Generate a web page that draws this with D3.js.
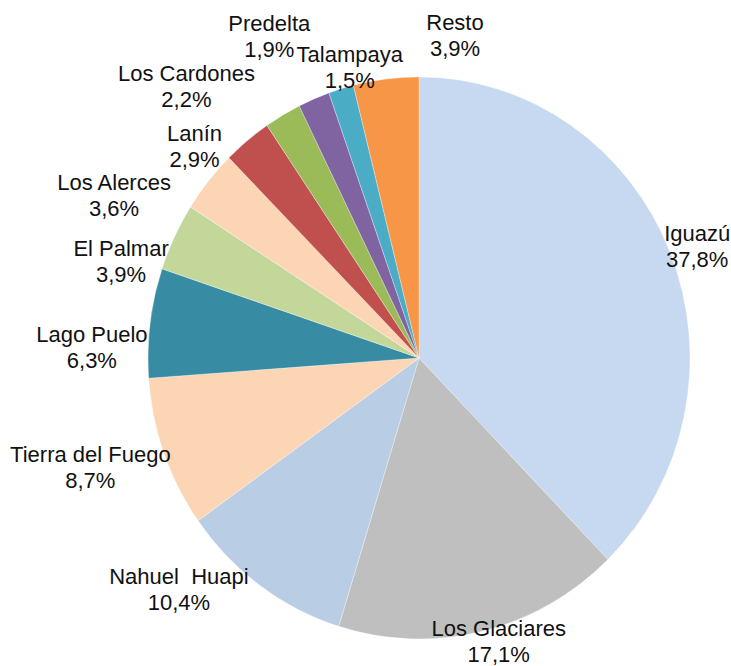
<!DOCTYPE html>
<html>
  <head>
    <script src="https://d3js.org/d3.v7.min.js"></script>
    <style>
      body { margin: 0; background-color: white; }
      text { font-family: 'Liberation Sans', Arial, sans-serif; font-size: 22px; fill: #111; white-space: pre; }
    </style>
  </head>
  <body>
    <svg id="canvas" width="731" height="666"></svg>
    <script>
      const parks = ['Iguazú', 'Los Glaciares', 'Nahuel  Huapi', 'Tierra del Fuego', 'Lago Puelo', 'El Palmar',
                     'Los Alerces', 'Lanín', 'Los Cardones', 'Predelta', 'Talampaya', 'Resto']
      const shares = [37.8, 17.1, 10.4, 8.7, 6.3, 3.9, 3.6, 2.9, 2.2, 1.9, 1.5, 3.9]
      const colors = ['#c6d9f1', '#bfbfbf', '#b9cde5', '#fcd5b5', '#378ba2', '#c4d79b',
                      '#fcd5b5', '#c0504d', '#9bbb59', '#8064a2', '#4bacc6', '#f79646']

      // pie is a bit taller than wide in the original
      const cx = 419
      const cy = 358
      const rx = 271
      const ry = 281

      // hand tweaks for labels, same as they were dragged in the original
      const labelNudge = {
        'Iguazú': [-3, 7],
        'Los Glaciares': [9, -23],
        'Nahuel  Huapi': [-62, -23],
        'Tierra del Fuego': [-43, 3],
        'Lago Puelo': [-26, 29],
        'El Palmar': [-24, 39],
        'Los Alerces': [-69, 35],
        'Lanín': [-32, 32],
        'Los Cardones': [-80, 1],
        'Predelta': [-32, -31],
        'Talampaya': [18, 11],
        'Resto': [73, -10]
      }

      const data = parks.map((p, i) => ({ name: p, value: shares[i], color: colors[i] }))

      const pie = d3.pie().sort(null).value(d => d.value)
      const arcs = pie(data)
      const arc = d3.arc().innerRadius(0).outerRadius(rx)

      let svg = d3.select('#canvas')
      let g = svg.append('g')
        .attr('transform', `translate(${cx}, ${cy}) scale(1, ${ry / rx})`)

      g.selectAll('path').data(arcs)
        .enter()
        .append('path')
          .attr('d', arc)
          .attr('fill', d => d.data.color)
          .attr('stroke', 'white')
          .attr('stroke-width', 0.3)

      const fmt = v => d3.format('.1f')(v).replace('.', ',') + '%'

      let labels = svg.append('g')
      const k = 1.12
      labels.selectAll('text').data(arcs)
        .enter()
        .append('text')
          .attr('text-anchor', 'middle')
          .attr('transform', d => {
            let a = (d.startAngle + d.endAngle) / 2
            let n = labelNudge[d.data.name] || [0, 0]
            let x = cx + rx * k * Math.sin(a) + n[0]
            let y = cy - ry * k * Math.cos(a) + n[1]
            return `translate(${x}, ${y})`
          })
          .each(function (d) {
            let t = d3.select(this)
            t.append('tspan').attr('x', 0).attr('y', -5.5).text(d.data.name)
            t.append('tspan').attr('x', 0).attr('y', 20.5).text(fmt(d.data.value))
          })
    </script>
  </body>
</html>
